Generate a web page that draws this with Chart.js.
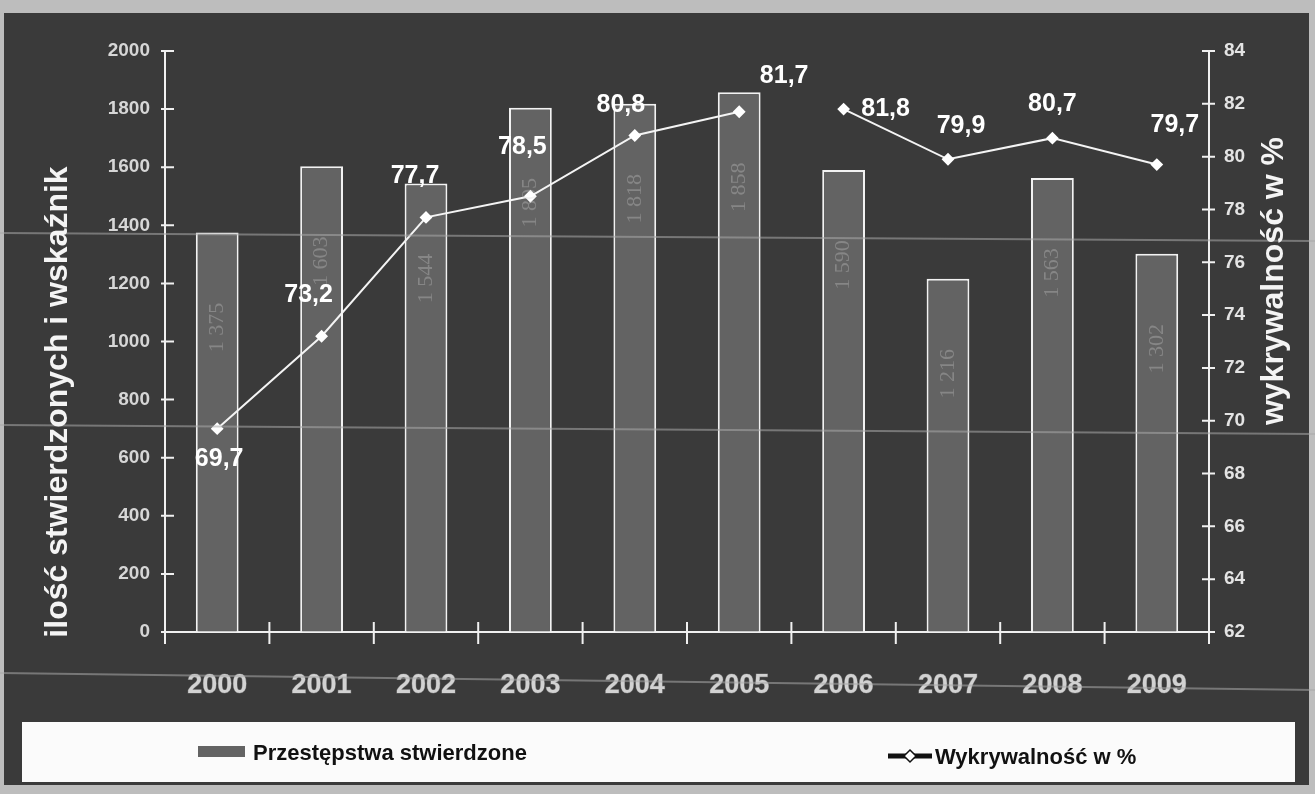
<!DOCTYPE html>
<html lang="pl">
<head>
<meta charset="utf-8">
<title>Przestępstwa stwierdzone i wykrywalność 2000–2009</title>
<script src="https://cdn.jsdelivr.net/npm/chart.js@4.4.1/dist/chart.umd.min.js"></script>
<style>
  html, body { margin: 0; padding: 0; background: #bdbdbd; }
  canvas { display: block; }
</style>
</head>
<body>
<canvas id="chart" width="1315" height="794"></canvas>
<script>
// dane
const years = ['2000', '2001', '2002', '2003', '2004', '2005', '2006', '2007', '2008', '2009'];
const crimes = [1375, 1603, 1544, 1805, 1818, 1858, 1590, 1216, 1563, 1302];
const detection = [69.7, 73.2, 77.7, 78.5, 80.8, 81.7, 81.8, 79.9, 80.7, 79.7];
const countTicks = [0, 200, 400, 600, 800, 1000, 1200, 1400, 1600, 1800, 2000];
const rateTicks = [62, 64, 66, 68, 70, 72, 74, 76, 78, 80, 82, 84];

// przesunięcia etykiet wartości względem punktów (px)
const labelOffsets = [[2, 30], [-13, -41], [-11, -41], [-8, -49], [-14, -30],
                      [45, -36], [42, 0], [13, -33], [0, -34], [18, -39]];

const W = 1315, H = 794;
const sans = "'Liberation Sans', Arial, sans-serif";
const LINE = 0, BARS = 1;

const spaced = n => String(n).replace(/\B(?=(\d{3})+(?!\d))/g, ' ');

const backdrop = {
  id: 'backdrop',
  beforeDraw(chart) {
    const ctx = chart.ctx;
    ctx.save();
    ctx.fillStyle = '#bdbdbd';
    ctx.fillRect(0, 0, W, H);
    ctx.fillStyle = '#3a3a3a';
    ctx.fillRect(4, 13, 1305, 772);
    ctx.restore();
  }
};

// znaczniki osi przecinające linie osi
const crossTicks = {
  id: 'crossTicks',
  afterDatasetsDraw(chart) {
    const {ctx, chartArea, scales} = chart;
    ctx.save();
    ctx.strokeStyle = '#f0f0f0';
    ctx.lineWidth = 2;
    ctx.beginPath();
    countTicks.forEach(v => {
      const y = scales.y.getPixelForValue(v);
      ctx.moveTo(chartArea.left - 4, y);
      ctx.lineTo(chartArea.left + 9, y);
    });
    rateTicks.forEach(v => {
      const y = scales.y1.getPixelForValue(v);
      ctx.moveTo(chartArea.right - 7, y);
      ctx.lineTo(chartArea.right + 6, y);
    });
    const half = (scales.x.getPixelForValue(1) - scales.x.getPixelForValue(0)) / 2;
    for (let i = 0; i <= years.length; i++) {
      const x = scales.x.getPixelForValue(i) - half;
      ctx.moveTo(x, chartArea.bottom - 10);
      ctx.lineTo(x, chartArea.bottom + 12);
    }
    ctx.stroke();
    ctx.restore();
  }
};

const valueLabels = {
  id: 'valueLabels',
  afterDatasetsDraw(chart) {
    const ctx = chart.ctx;
    ctx.save();
    // słabo widoczne liczby wewnątrz słupków
    chart.getDatasetMeta(BARS).data.forEach((bar, i) => {
      ctx.save();
      ctx.translate(bar.x, bar.y + 95);
      ctx.rotate(-Math.PI / 2);
      ctx.font = "22px 'Liberation Serif', 'Times New Roman', serif";
      ctx.fillStyle = 'rgba(215,215,215,0.3)';
      ctx.textAlign = 'center';
      ctx.textBaseline = 'middle';
      ctx.fillText(spaced(crimes[i]), 0, 0);
      ctx.restore();
    });
    ctx.font = 'bold 25px ' + sans;
    ctx.fillStyle = '#ffffff';
    ctx.textAlign = 'center';
    ctx.textBaseline = 'middle';
    chart.getDatasetMeta(LINE).data.forEach((pt, i) => {
      const [dx, dy] = labelOffsets[i];
      ctx.fillText(detection[i].toFixed(1).replace('.', ','), pt.x + dx, pt.y + dy);
    });
    ctx.restore();
  }
};

const frame = {
  id: 'frame',
  afterDraw(chart) {
    const ctx = chart.ctx;
    ctx.save();
    // smugi ze skanu
    ctx.strokeStyle = 'rgba(170,170,170,0.55)';
    ctx.lineWidth = 2;
    [[233, 241], [425, 434], [673, 690]].forEach(([a, b]) => {
      ctx.beginPath();
      ctx.moveTo(0, a);
      ctx.lineTo(W, b);
      ctx.stroke();
    });

    // tytuły osi
    ctx.fillStyle = '#f4f4f4';
    ctx.font = 'bold 32px ' + sans;
    ctx.textAlign = 'center';
    ctx.textBaseline = 'middle';
    ctx.save();
    ctx.translate(58, 402);
    ctx.rotate(-Math.PI / 2);
    ctx.fillText('ilość stwierdzonych i wskaźnik', 0, 0);
    ctx.restore();
    ctx.save();
    ctx.translate(1274, 281);
    ctx.rotate(-Math.PI / 2);
    ctx.fillText('wykrywalność w %', 0, 0);
    ctx.restore();

    // legenda
    const bars = chart.data.datasets[BARS];
    const line = chart.data.datasets[LINE];
    ctx.fillStyle = '#fbfbfb';
    ctx.fillRect(22, 722, 1273, 60);
    ctx.fillStyle = bars.backgroundColor;
    ctx.fillRect(198, 746, 47, 11);
    ctx.strokeStyle = '#111';
    ctx.lineWidth = 5;
    ctx.beginPath();
    ctx.moveTo(888, 756);
    ctx.lineTo(932, 756);
    ctx.stroke();
    ctx.fillStyle = '#fff';
    ctx.lineWidth = 1.5;
    ctx.beginPath();
    ctx.moveTo(910, 750); ctx.lineTo(916, 756); ctx.lineTo(910, 762); ctx.lineTo(904, 756);
    ctx.closePath();
    ctx.fill();
    ctx.stroke();
    ctx.fillStyle = '#111';
    ctx.font = 'bold 22px ' + sans;
    ctx.textAlign = 'left';
    ctx.fillText(bars.label, 253, 754);
    ctx.fillText(line.label, 935, 758);
    ctx.restore();
  }
};

new Chart(document.getElementById('chart'), {
  data: {
    labels: years,
    datasets: [
      {
        type: 'line',
        label: 'Wykrywalność w %',
        data: detection,
        yAxisID: 'y1',
        order: 0,
        borderColor: '#f4f4f4',
        borderWidth: 2,
        pointStyle: 'rectRot',
        pointRadius: 5,
        pointBackgroundColor: '#ffffff',
        pointBorderColor: '#ffffff',
        tension: 0,
        segment: {
          borderColor: c => c.p0DataIndex === 5 ? 'rgba(0,0,0,0)' : undefined
        }
      },
      {
        type: 'bar',
        label: 'Przestępstwa stwierdzone',
        data: crimes,
        yAxisID: 'y',
        order: 1,
        backgroundColor: '#636363',
        borderColor: '#f2f2f2',
        borderWidth: 2,
        barPercentage: 0.41,
        categoryPercentage: 1
      }
    ]
  },
  options: {
    responsive: false,
    animation: false,
    devicePixelRatio: 1,
    layout: { padding: { top: 51, left: 0, right: 0, bottom: 0 } },
    plugins: {
      legend: { display: false },
      tooltip: { enabled: false }
    },
    scales: {
      x: {
        offset: true,
        grid: { drawOnChartArea: false, drawTicks: false },
        border: { color: '#f0f0f0', width: 2 },
        ticks: {
          color: '#d2d2d2',
          textStrokeColor: '#6a6a6a',
          textStrokeWidth: 1,
          padding: 37,
          font: { family: sans, size: 27, weight: 'bold' }
        },
        afterFit: s => { s.height = 162; }
      },
      y: {
        position: 'left',
        min: 0,
        max: 2000,
        grid: { drawOnChartArea: false, drawTicks: false },
        border: { color: '#f0f0f0', width: 2 },
        ticks: {
          color: '#d6d6d6',
          padding: 15,
          font: { family: sans, size: 19, weight: 'bold' },
          callback: v => String(v)
        },
        afterBuildTicks: s => { s.ticks = countTicks.map(v => ({ value: v })); },
        afterFit: s => { s.width = 165; }
      },
      y1: {
        position: 'right',
        min: 62,
        max: 84,
        grid: { drawOnChartArea: false, drawTicks: false },
        border: { color: '#f0f0f0', width: 2 },
        ticks: {
          color: '#e4e4e4',
          padding: 15,
          font: { family: sans, size: 19, weight: 'bold' },
          callback: v => String(v)
        },
        afterBuildTicks: s => { s.ticks = rateTicks.map(v => ({ value: v })); },
        afterFit: s => { s.width = 106; }
      }
    }
  },
  plugins: [backdrop, crossTicks, valueLabels, frame]
});
</script>
</body>
</html>
